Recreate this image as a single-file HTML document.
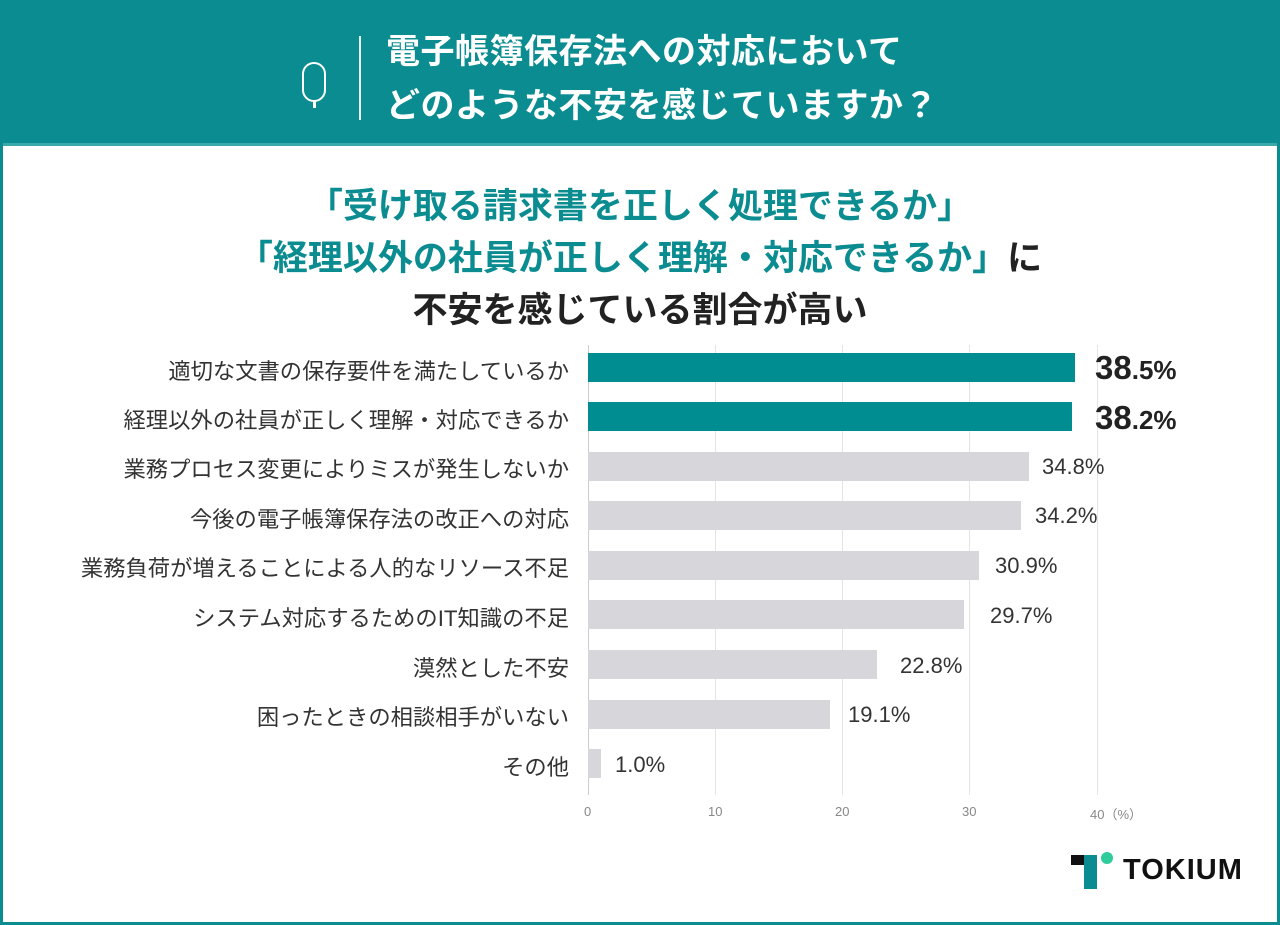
<!DOCTYPE html>
<html><head><meta charset="utf-8"><style>
*{margin:0;padding:0;box-sizing:border-box}
body{width:1280px;height:925px;background:#fff;position:relative;overflow:hidden;font-family:"Liberation Sans","Noto Sans CJK JP",sans-serif}
.frame{position:absolute;left:0;top:0;width:1280px;height:925px;border:3px solid #0a8c90;border-top:none}
.hdr{position:absolute;left:0;top:0;width:1280px;height:146px;background:#0a8c90;border-bottom:3px solid #3aa9ab}
.q{position:absolute;left:302px;top:62px;width:24px;height:40px;border:2.5px solid #fff;border-radius:12px}
.q:after{content:"";position:absolute;left:9px;top:36px;width:2.5px;height:8px;background:#fff}
.sep{position:absolute;left:359px;top:36px;width:2px;height:84px;background:#e6f3f3}
.ht{position:absolute;left:386px;top:25px;color:#fff;font-weight:bold;font-size:34px;line-height:54px;letter-spacing:0.5px}
.t{position:absolute;left:0;width:1280px;text-align:center;font-weight:bold;font-size:35px;color:#222}
.t span{color:#0a8c90}
.lab{position:absolute;right:711px;font-size:22.3px;color:#333;text-align:right;white-space:nowrap}
.bar{position:absolute;left:588px;height:29px}
.v{position:absolute;font-size:22px;color:#333}
.vb{position:absolute;font-size:33px;font-weight:bold;color:#222}
.vb small{font-size:26px;font-weight:bold}
.g{position:absolute;top:345px;width:1px;height:450px;background:#e4e4e4}
.tk{position:absolute;top:804px;font-size:13px;color:#888}
</style></head><body>
<div class="hdr"></div>
<div class="frame"></div>
<div class="q"></div><div class="sep"></div>
<div class="ht">電子帳簿保存法への対応において<br>どのような不安を感じていますか？</div>
<div class="t" style="top:178px"><span>「受け取る請求書を正しく処理できるか」</span></div>
<div class="t" style="top:230px"><span>「経理以外の社員が正しく理解・対応できるか」</span>に</div>
<div class="t" style="top:282px">不安を感じている割合が高い</div>
<div class="g" style="left:588px;background:#ccc"></div>
<div class="g" style="left:715px"></div>
<div class="g" style="left:842px"></div>
<div class="g" style="left:969px"></div>
<div class="g" style="left:1097px"></div>
<div class="tk" style="left:584px">0</div>
<div class="tk" style="left:708px">10</div>
<div class="tk" style="left:835px">20</div>
<div class="tk" style="left:962px">30</div>
<div class="tk" style="left:1090px">40（%）</div>

<div class="lab" style="top:354px">適切な文書の保存要件を満たしているか</div>
<div class="bar" style="top:353px;width:487px;background:#008d91"></div>
<div class="vb" style="left:1095px;top:349px">38<small>.5%</small></div>

<div class="lab" style="top:403px">経理以外の社員が正しく理解・対応できるか</div>
<div class="bar" style="top:402px;width:484px;background:#008d91"></div>
<div class="vb" style="left:1095px;top:399px">38<small>.2%</small></div>

<div class="lab" style="top:452px">業務プロセス変更によりミスが発生しないか</div>
<div class="bar" style="top:452px;width:441px;background:#d7d7db"></div>
<div class="v" style="left:1042px;top:454px">34.8%</div>

<div class="lab" style="top:502px">今後の電子帳簿保存法の改正への対応</div>
<div class="bar" style="top:501px;width:433px;background:#d7d7db"></div>
<div class="v" style="left:1035px;top:503px">34.2%</div>

<div class="lab" style="top:551px">業務負荷が増えることによる人的なリソース不足</div>
<div class="bar" style="top:551px;width:391px;background:#d7d7db"></div>
<div class="v" style="left:995px;top:553px">30.9%</div>

<div class="lab" style="top:601px">システム対応するためのIT知識の不足</div>
<div class="bar" style="top:600px;width:376px;background:#d7d7db"></div>
<div class="v" style="left:990px;top:603px">29.7%</div>

<div class="lab" style="top:651px">漠然とした不安</div>
<div class="bar" style="top:650px;width:289px;background:#d7d7db"></div>
<div class="v" style="left:900px;top:653px">22.8%</div>

<div class="lab" style="top:700px">困ったときの相談相手がいない</div>
<div class="bar" style="top:700px;width:242px;background:#d7d7db"></div>
<div class="v" style="left:848px;top:702px">19.1%</div>

<div class="lab" style="top:750px">その他</div>
<div class="bar" style="top:749px;width:13px;background:#d7d7db"></div>
<div class="v" style="left:615px;top:752px">1.0%</div>

<div style="position:absolute;left:1071px;top:855px;width:26px;height:10px;background:#111"></div>
<div style="position:absolute;left:1084px;top:855px;width:13px;height:34px;background:#0a8c90"></div>
<div style="position:absolute;left:1101px;top:852px;width:12px;height:12px;border-radius:50%;background:#2ecc9a"></div>
<div style="position:absolute;left:1123px;top:854px;font-size:29px;font-weight:bold;color:#111;letter-spacing:1px">TOKIUM</div>
</body></html>
